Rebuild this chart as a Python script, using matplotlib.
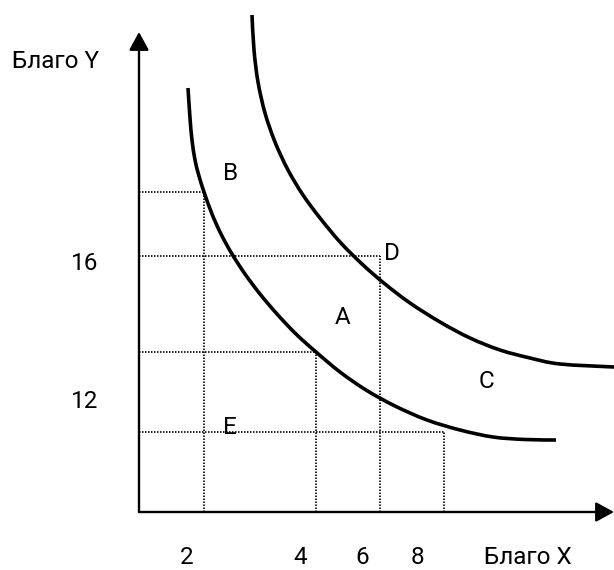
import matplotlib
matplotlib.use("Agg")
import matplotlib.pyplot as plt
from matplotlib.path import Path
from matplotlib.patches import PathPatch

# Schematic of two indifference curves (canvas units, origin at axis corner)
outer_x = [113, 115, 119, 126, 136, 149, 164, 181, 201, 223, 246, 271, 301, 331, 361, 391, 421, 475]
outer_y = [497, 462, 430, 399, 370, 342, 317, 294, 270, 248, 228, 209, 190, 174, 162, 154, 148, 145]

inner_x = [49, 51, 53, 56, 60, 65, 73, 82, 93, 106, 121, 138, 157, 177, 201, 227, 256, 288, 321, 354, 386, 417]
inner_y = [424, 394, 372, 352, 336, 320, 298, 278, 258, 238, 218, 198, 178, 160, 140, 122, 106, 92, 82, 75, 72.5, 72]

# corners of the dotted guide lines
guide_x = [65, 241, 177, 305]
guide_y = [320, 256, 160, 80]

# tick labels
xtick_labels = ["2", "4", "6", "8"]
xtick_pos = [48, 161, 223, 278]
ytick_labels = ["16", "12"]
ytick_pos = [248, 111]

# point labels
point_labels = ["B", "D", "A", "E", "C"]
point_x = [92, 253, 204, 91, 348]
point_y = [339, 259, 194, 84, 131]

plt.rcParams["font.family"] = ["Roboto", "DejaVu Sans"]
FS = 17.5


def smooth_path(xs, ys):
    # pass a smooth bezier through the read points (Catmull-Rom style)
    pts = list(zip(xs, ys))
    verts = [pts[0]]
    codes = [Path.MOVETO]
    n = len(pts)
    for i in range(n - 1):
        p0 = pts[max(i - 1, 0)]
        p1 = pts[i]
        p2 = pts[i + 1]
        p3 = pts[min(i + 2, n - 1)]
        c1 = (p1[0] + (p2[0] - p0[0]) / 6, p1[1] + (p2[1] - p0[1]) / 6)
        c2 = (p2[0] - (p3[0] - p1[0]) / 6, p2[1] - (p3[1] - p1[1]) / 6)
        verts += [c1, c2, p2]
        codes += [Path.CURVE4] * 3
    return Path(verts, codes)


fig = plt.figure(figsize=(6.14, 5.70), dpi=100)
ax = fig.add_axes([0, 0, 1, 1])
ax.set_xlim(-139, 475)
ax.set_ylim(-58, 512)
ax.axis("off")

# dotted guides
dots = (0, (0.9, 0.9))
for gx, gy in zip(guide_x, guide_y):
    ax.plot([0, gx], [gy, gy], color="black", lw=1.2, linestyle=dots)
    ax.plot([gx, gx], [0, gy], color="black", lw=1.2, linestyle=dots)

# curves
for xs, ys in [(outer_x, outer_y), (inner_x, inner_y)]:
    ax.add_patch(PathPatch(smooth_path(xs, ys), facecolor="none", edgecolor="black",
                           lw=2.6, capstyle="butt", clip_on=False))

# axes with arrows
arrow = dict(arrowstyle="-|>,head_length=0.55,head_width=0.3", lw=1.7,
             color="black", mutation_scale=20, shrinkA=0, shrinkB=0)
ax.annotate("", xy=(0, 480), xytext=(0, 0), arrowprops=arrow, annotation_clip=False)
ax.annotate("", xy=(475, 0), xytext=(0, 0), arrowprops=arrow, annotation_clip=False)

# texts
ax.text(-84, 450, "Благо Y", fontsize=FS, ha="center", va="center")
ax.text(389, -46, "Благо X", fontsize=FS, ha="center", va="center")
for lab, px in zip(xtick_labels, xtick_pos):
    ax.text(px, -46, lab, fontsize=FS, ha="center", va="center")
for lab, py in zip(ytick_labels, ytick_pos):
    ax.text(-54, py, lab, fontsize=FS, ha="center", va="center")
for lab, px, py in zip(point_labels, point_x, point_y):
    ax.text(px, py, lab, fontsize=FS, ha="center", va="center")

fig.savefig("out.png", dpi=100)
